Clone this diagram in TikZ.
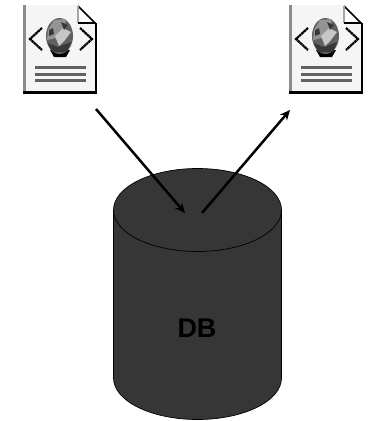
\documentclass[tikz,border=0pt]{standalone}
\usepackage{fontspec}
\setmainfont{Liberation Sans}
\usetikzlibrary{arrows.meta}
\definecolor{dbfill}{HTML}{363636}
\tikzset{
  flow/.style={line width=2.5pt,-{Stealth[length=10pt,width=9pt]}},
  dbedge/.style={draw=black,line width=0.7pt},
  chev/.style={draw=black,line width=2.2pt,dash pattern=on 2.6pt off 0.5pt},
  txtline/.style={draw=black!62,line width=3pt},
  pics/docicon/.style={code={
    % page
    \fill[black!4] (24,5) -- (78,5) -- (96,23) -- (96,93) -- (24,93) -- cycle;
    \draw[black!45,line width=3pt] (24.5,5) -- (24.5,92);
    \draw[black,line width=2.4pt] (23,92.5) -- (96,92.5) -- (96,23);
    % fold
    \fill[white] (78,6) -- (78,23) -- (95,23) -- cycle;
    \draw[black,line width=1.6pt] (78,6) -- (95,23);
    \draw[black!35,line width=1.2pt] (78,6) -- (78,23);
    \draw[black,line width=2pt] (78,23) -- (96,23);
    % chevrons
    \draw[chev] (42,28) -- (30,39) -- (42,50);
    \draw[chev] (80,28) -- (92,39) -- (80,50);
    % globe
    \fill[black] (50,50) -- (70,50) -- (66,57) -- (54,57) -- cycle;
    \fill[black!62] (59.5,36) ellipse [x radius=13.5,y radius=18];
    \fill[black!42] (48,30) -- (54,20) -- (66,19) -- (64,30) -- (56,38) -- (47,40) -- cycle;
    \fill[black!22] (55,36) -- (63,28) -- (71,32) -- (65,40) -- (59,46) -- cycle;
    \fill[black!78] (48,43) -- (58,47) -- (71,42) -- (67,52) -- (52,52) -- cycle;
    \fill[black!78] (61,22) -- (68,25) -- (64,30) -- cycle;
    \fill[black!78] (49,30) -- (53,28) -- (54,34) -- (49,36) -- cycle;
    % text lines
    \draw[txtline] (35,67.5) -- (86,67.5);
    \draw[txtline] (35,74) -- (86,74);
    \draw[txtline] (35,80) -- (86,80);
  }}
}
\begin{document}
\begin{tikzpicture}[x=1pt,y=-1pt]
\useasboundingbox (0,0) rectangle (371,421);
% database
\path[fill=dbfill,dbedge] (113.5,210) -- (113.5,378)
  arc[start angle=180,end angle=360,x radius=84,y radius=-41.5]
  -- (281.5,210)
  arc[start angle=0,end angle=180,x radius=84,y radius=-41.5] -- cycle;
\draw[dbedge] (113.5,210) arc[start angle=180,end angle=360,x radius=84,y radius=-41.5];
\node[font=\bfseries\fontsize{27}{27}\selectfont,text=black,inner sep=0pt] (db) at (197,328) {DB};
% icons
\pic (left) at (0,0) {docicon};
\pic (right) at (266,0) {docicon};
% connector ends
\coordinate (leftout) at (96,109);
\coordinate (dbin) at (185,213);
\coordinate (dbout) at (202,213);
\coordinate (rightin) at (290,110);
\draw[flow] (leftout) -- (dbin);
\draw[flow] (dbout) -- (rightin);
\end{tikzpicture}
\end{document}
